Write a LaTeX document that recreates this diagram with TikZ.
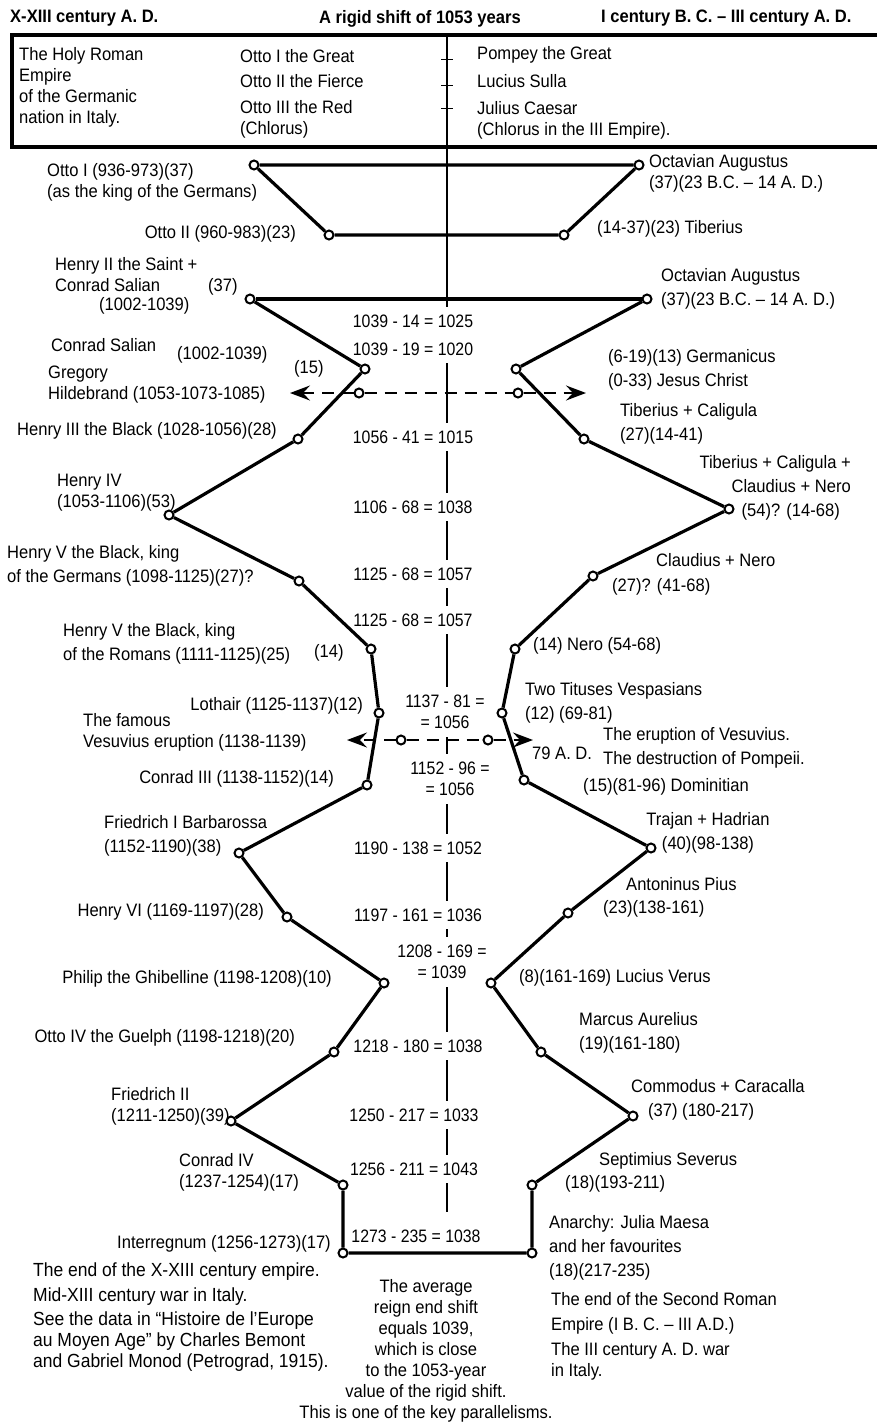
\documentclass[tikz,border=0pt]{standalone}
\usepackage{fontspec}
\setmainfont[FakeStretch=0.92]{Liberation Sans}
\newfontfamily\eqfont[FakeStretch=0.88]{Liberation Sans}
\usetikzlibrary{arrows.meta}

\tikzset{
  vtx/.style={circle,draw,line width=2pt,fill=white,inner sep=0pt,minimum size=9pt},
  chain/.style={line width=3.2pt},
  lbl/.style={inner sep=0pt,align=left,font=\fontsize{18}{21}\selectfont},
  lbw/.style={lbl,font=\fontsize{18}{24}\selectfont},
  hdr/.style={inner sep=0pt,font=\fontsize{18}{21}\selectfont\bfseries},
  eqn/.style={fill=white,inner xsep=2pt,inner ysep=8pt,align=center,font=\eqfont\fontsize{18}{21}\selectfont},
  shiftline/.style={line width=2pt,dash pattern=on 12pt off 8pt},
  shiftarrow/.style={shiftline,-{Stealth[length=20pt,width=15pt,inset=7pt]}}
}

\begin{document}
\begin{tikzpicture}[x=1pt,y=-1pt]
\useasboundingbox (0,0) rectangle (876,1424);

\node[hdr,anchor=north west] (hL) at (10,10) {X-XIII century A. D.};
\node[hdr,anchor=north west] (hC) at (319,10) {A rigid shift of 1053 years};
\node[hdr,anchor=north west] (hR) at (601,10) {I century B. C. -- III century A. D.};

\draw[line width=3.5pt] (877,35) -| (12,147) -- (877,147);
\coordinate (axtop) at (447,35);
\coordinate (axbot) at (447,1212);
\draw[line width=2.2pt] (axtop) -- (axbot);
\foreach \ty in {59,85,108} \draw[line width=1pt] (441,\ty) -- (453,\ty);

\node[lbl,anchor=north west] (bxL) at (19,47) {The Holy Roman\\Empire\\of the Germanic\\nation in Italy.};
\node[lbl,anchor=north west] (bxO1) at (240,49) {Otto I the Great};
\node[lbl,anchor=north west] (bxO2) at (240,74) {Otto II the Fierce};
\node[lbl,anchor=north west] (bxO3) at (240,100) {Otto III the Red\\(Chlorus)};
\node[lbl,anchor=north west] (bxP) at (477,46) {Pompey the Great};
\node[lbl,anchor=north west] (bxS) at (477,74) {Lucius Sulla};
\node[lbl,anchor=north west] (bxJ) at (477,101) {Julius Caesar\\(Chlorus in the III Empire).};

% differences on the axis
\node[eqn] (e1) at (413,321) {1039 - 14 = 1025};
\node[eqn] (e2) at (413,349) {1039 - 19 = 1020};
\node[eqn] (e3) at (413,437) {1056 - 41 = 1015};
\node[eqn] (e4) at (413,507) {1106 - 68 = 1038};
\node[eqn] (e5) at (413,574) {1125 - 68 = 1057};
\node[eqn] (e6) at (413,620) {1125 - 68 = 1057};
\node[eqn] (e7) at (445,712) {1137 - 81 =\\= 1056};
\node[eqn] (e8) at (450,779) {1152 - 96 =\\= 1056};
\node[eqn] (e9) at (418,848) {1190 - 138 = 1052};
\node[eqn] (e10) at (418,915) {1197 - 161 = 1036};
\node[eqn] (e11) at (442,962) {1208 - 169 =\\= 1039};
\node[eqn] (e12) at (418,1046) {1218 - 180 = 1038};
\node[eqn] (e13) at (414,1115) {1250 - 217 = 1033};
\node[eqn] (e14) at (414,1169) {1256 - 211 = 1043};
\node[eqn] (e15) at (416,1236) {1273 - 235 = 1038};

% vertices, left
\node[vtx] (ot1) at (254,165) {};
\node[vtx] (ot2) at (329,235) {};
\node[vtx] (he2) at (250,299) {};
\node[vtx] (cs) at (365,369) {};
\node[vtx] (h3) at (298,439) {};
\node[vtx] (h4) at (169,515) {};
\node[vtx] (h5g) at (299,581) {};
\node[vtx] (h5r) at (371,649) {};
\node[vtx] (lot) at (379,713) {};
\node[vtx] (c3) at (367,785) {};
\node[vtx] (fb) at (239,853) {};
\node[vtx] (h6) at (287,917) {};
\node[vtx] (ph) at (384,983) {};
\node[vtx] (o4) at (334,1052) {};
\node[vtx] (f2) at (231,1121) {};
\node[vtx] (c4) at (343,1185) {};
\node[vtx] (itr) at (343,1253) {};
% vertices, right
\node[vtx] (oa1) at (639,165) {};
\node[vtx] (ti1) at (564,235) {};
\node[vtx] (oa2) at (647,299) {};
\node[vtx] (ge) at (516,369) {};
\node[vtx] (tc) at (584,439) {};
\node[vtx] (tn) at (729,509) {};
\node[vtx] (cn) at (593,576) {};
\node[vtx] (ne) at (515,649) {};
\node[vtx] (tv) at (502,713) {};
\node[vtx] (dm) at (524,780) {};
\node[vtx] (th) at (651,848) {};
\node[vtx] (ap) at (568,913) {};
\node[vtx] (lv) at (491,983) {};
\node[vtx] (ma) at (541,1052) {};
\node[vtx] (cc) at (633,1116) {};
\node[vtx] (ss) at (532,1185) {};
\node[vtx] (an) at (532,1253) {};

\draw[chain] (ot1) -- (oa1) -- (ti1) -- (ot2) -- (ot1);
\draw[chain] (he2) -- (oa2);
\draw[chain] (he2) -- (cs) -- (h3) -- (h4) -- (h5g) -- (h5r) -- (lot) -- (c3) -- (fb) -- (h6) -- (ph) -- (o4) -- (f2) -- (c4) -- (itr) -- (an) -- (ss) -- (cc) -- (ma) -- (lv) -- (ap) -- (th) -- (dm) -- (tv) -- (ne) -- (cn) -- (tn) -- (tc) -- (ge) -- (oa2);

\node[vtx] (d1L) at (359,393) {};
\node[vtx] (d1R) at (518,393) {};
\node[vtx] (d2L) at (401,740) {};
\node[vtx] (d2R) at (488,740) {};
\coordinate (t1L) at (290,393);
\coordinate (t1R) at (586,393);
\coordinate (t2L) at (347,740);
\coordinate (t2R) at (533,740);
\draw[shiftline] (d1L) -- (d1R);
\draw[shiftarrow] (d1L) -- (t1L);
\draw[shiftarrow] (d1R) -- (t1R);
\draw[shiftline] (d2L) -- (d2R);
\draw[shiftarrow] (d2L) -- (t2L);
\draw[shiftarrow] (d2R) -- (t2R);

% left labels
\node[lbl,anchor=north west] (lO1) at (47,163) {Otto I (936-973)(37)\\(as the king of the Germans)};
\node[lbl,anchor=north east] (lO2) at (296,225) {Otto II (960-983)(23)};
\node[lbl,anchor=north west] (lH2a) at (55,257) {Henry II the Saint +\\Conrad Salian};
\node[lbl,anchor=north west] (lH2b) at (208,278) {(37)};
\node[lbl,anchor=north west] (lH2c) at (99,297) {(1002-1039)};
\node[lbl,anchor=north west] (lCS) at (51,338) {Conrad Salian};
\node[lbl,anchor=north west] (lCSd) at (177,346) {(1002-1039)};
\node[lbl,anchor=north west] (l15) at (294,360) {(15)};
\node[lbl,anchor=north west] (lGH) at (48,366) {Gregory\\Hildebrand (1053-1073-1085)};
\node[lbl,anchor=north east] (lH3) at (277,422) {Henry III the Black (1028-1056)(28)};
\node[lbl,anchor=north west] (lH4) at (57,474) {Henry IV\\(1053-1106)(53)};
\node[lbw,anchor=north west] (lH5g) at (7,545) {Henry V the Black, king\\of the Germans (1098-1125)(27)?};
\node[lbw,anchor=north west] (lH5r) at (63,623) {Henry V the Black, king\\of the Romans (1111-1125)(25)};
\node[lbl,anchor=north west] (l14) at (314,644) {(14)};
\node[lbl,anchor=north east] (lLo) at (363,697) {Lothair (1125-1137)(12)};
\node[lbl,anchor=north west] (lVe) at (83,713) {The famous\\Vesuvius eruption (1138-1139)};
\node[lbl,anchor=north east] (lC3) at (334,770) {Conrad III (1138-1152)(14)};
\node[lbw,anchor=north west] (lFB) at (104,815) {Friedrich I Barbarossa\\(1152-1190)(38)};
\node[lbl,anchor=north east] (lH6) at (264,903) {Henry VI (1169-1197)(28)};
\node[lbl,anchor=north east] (lPh) at (332,970) {Philip the Ghibelline (1198-1208)(10)};
\node[lbl,anchor=north east] (lO4) at (295,1029) {Otto IV the Guelph (1198-1218)(20)};
\node[lbl,anchor=north west] (lF2) at (111,1087) {Friedrich II\\(1211-1250)(39)};
\node[lbl,anchor=north west] (lC4) at (179,1153) {Conrad IV\\(1237-1254)(17)};
\node[lbl,anchor=north east] (lIn) at (331,1235) {Interregnum (1256-1273)(17)};
\node[lbl,anchor=north west,font=\fontsize{19}{21}\selectfont] (lEnd) at (33,1263) {The end of the X-XIII century empire.\\[4pt]Mid-XIII century war in Italy.\\[3pt]See the data in “Histoire de l'Europe\\au Moyen Age” by Charles Bemont\\and Gabriel Monod (Petrograd, 1915).};

% right labels
\node[lbl,anchor=north west] (rOA1) at (649,154) {Octavian Augustus\\(37)(23 B.C. -- 14 A. D.)};
\node[lbl,anchor=north west] (rTi) at (597,220) {(14-37)(23) Tiberius};
\node[lbw,anchor=north west] (rOA2) at (661,268) {Octavian Augustus\\(37)(23 B.C. -- 14 A. D.)};
\node[lbw,anchor=north west] (rGe) at (608,349) {(6-19)(13) Germanicus\\(0-33) Jesus Christ};
\node[lbw,anchor=north west] (rTC) at (620,403) {Tiberius + Caligula\\(27)(14-41)};
\node[lbw,anchor=north east,align=right] (rTN) at (851,455) {Tiberius + Caligula +\\Claudius + Nero\\(54)? (14-68)\hspace*{11pt}};
\node[lbl,anchor=north west] (rCNa) at (656,553) {Claudius + Nero};
\node[lbl,anchor=north west] (rCNb) at (612,578) {(27)? (41-68)};
\node[lbl,anchor=north west] (rNe) at (533,637) {(14) Nero (54-68)};
\node[lbw,anchor=north west] (rTV) at (525,682) {Two Tituses Vespasians\\(12) (69-81)};
\node[lbl,anchor=north west] (r79) at (532,747) {79 A. D.};
\node[lbw,anchor=north west] (rEr) at (603,727) {The eruption of Vesuvius.\\The destruction of Pompeii.};
\node[lbl,anchor=north west] (rDo) at (583,778) {(15)(81-96) Dominitian};
\node[lbw,anchor=north,align=center] (rTH) at (708,812) {Trajan + Hadrian\\(40)(98-138)};
\node[lbl,anchor=north west] (rAPa) at (626,877) {Antoninus Pius};
\node[lbl,anchor=north west] (rAPb) at (603,900) {(23)(138-161)};
\node[lbl,anchor=north west] (rLV) at (519,969) {(8)(161-169) Lucius Verus};
\node[lbw,anchor=north west] (rMA) at (579,1012) {Marcus Aurelius\\(19)(161-180)};
\node[lbl,anchor=north west] (rCCa) at (631,1079) {Commodus + Caracalla};
\node[lbl,anchor=north west] (rCCb) at (648,1103) {(37) (180-217)};
\node[lbl,anchor=north west] (rSSa) at (599,1152) {Septimius Severus};
\node[lbl,anchor=north west] (rSSb) at (565,1175) {(18)(193-211)};
\node[lbw,anchor=north west] (rAn) at (549,1215) {Anarchy: Julia Maesa\\and her favourites\\(18)(217-235)};
\node[lbl,anchor=north west] (rEnd) at (551,1292) {The end of the Second Roman\\[4pt]Empire (I B. C. -- III A.D.)};
\node[lbl,anchor=north west] (rWar) at (551,1342) {The III century A. D. war\\in Italy.};

\node[lbl,anchor=north,align=center] (cAvg) at (426,1279) {The average\\reign end shift\\equals 1039,\\which is close\\to the 1053-year\\value of the rigid shift.\\This is one of the key parallelisms.};
\end{tikzpicture}
\end{document}
